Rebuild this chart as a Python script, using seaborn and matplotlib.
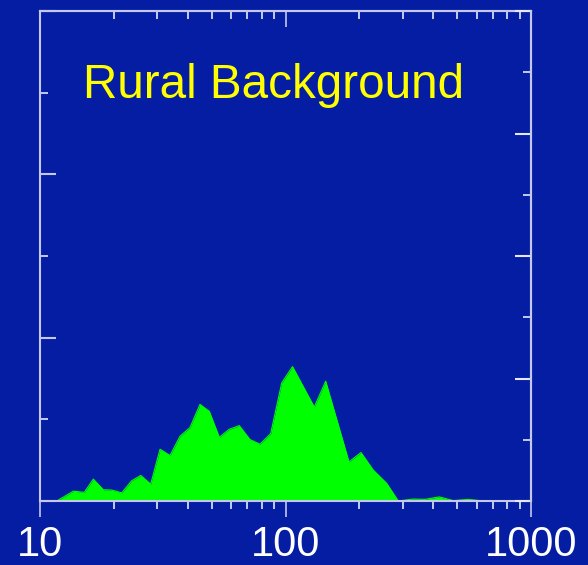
import numpy as np
import pandas as pd
import matplotlib
matplotlib.use("Agg")
import matplotlib.pyplot as plt
from matplotlib.ticker import MultipleLocator, LogLocator, NullFormatter, FixedLocator
import seaborn as sns

# Particle size distribution, rural background site
diameter_nm = [11.70, 13.67, 15.15, 16.49, 18.11, 19.60, 21.52, 23.63, 25.72, 28.24,
               30.83, 33.86, 37.18, 40.83, 44.84, 48.93, 53.75, 59.02, 64.82, 71.68,
               78.72, 87.04, 96.50, 106.8, 131.0, 145.8, 181.4, 203.0, 227.9, 258.4,
               288.0, 331.6, 370.0, 423.1, 482.5, 555.4, 619.8, 945.0]
concentration = [0.0, 0.12, 0.106, 0.268, 0.138, 0.134, 0.10, 0.248, 0.313, 0.207,
                 0.634, 0.557, 0.793, 0.899, 1.183, 1.098, 0.780, 0.878, 0.923, 0.752,
                 0.695, 0.826, 1.445, 1.646, 1.15, 1.467, 0.479, 0.594, 0.378, 0.216,
                 0.0, 0.024, 0.02, 0.05, 0.005, 0.02, 0.005, 0.0]
x_tick_labels = ["10", "100", "1000"]
title_text = "Rural Background"

BG = "#051DA2"
SPINE = "#c4c8ee"
TICK = "#e6e8f8"
GREEN = "#00FF00"

sns.set_theme(style="ticks")
plt.rcParams["font.family"] = ["Liberation Sans", "DejaVu Sans"]

df = pd.DataFrame({"d": diameter_nm, "c": concentration})

fig = plt.figure(figsize=(5.88, 5.65), dpi=100, facecolor=BG)
ax = fig.add_axes([40 / 588, 64 / 565, 491 / 588, 490 / 565])
ax.set_facecolor(BG)

ax.fill_between(df["d"], 0, df["c"], color=GREEN, linewidth=0, zorder=2)
sns.lineplot(data=df, x="d", y="c", color=GREEN, linewidth=0.8, ax=ax, zorder=3)

ax.set_xscale("log")
ax.set_xlim(10, 1000)
ax.set_ylim(0, 6)
ax.set_xlabel("")
ax.set_ylabel("")

for s in ax.spines.values():
    s.set_color(SPINE)
    s.set_linewidth(1.5)
    s.set_zorder(5)

# bottom: outward ticks with labels
ax.xaxis.set_major_locator(FixedLocator([10, 100, 1000]))
ax.set_xticklabels(x_tick_labels)
ax.xaxis.set_minor_locator(LogLocator(base=10, subs=np.arange(2, 10)))
ax.xaxis.set_minor_formatter(NullFormatter())
ax.tick_params(axis="x", which="major", direction="out", length=11.5, width=1.2,
               color=SPINE, labelcolor="white", labelsize=30, pad=6)
ax.tick_params(axis="x", which="minor", direction="out", length=6, width=1.2, color=TICK)

# left: inward ticks, no labels
ax.yaxis.set_major_locator(MultipleLocator(2))
ax.yaxis.set_minor_locator(MultipleLocator(1))
ax.tick_params(axis="y", which="major", direction="in", length=11.5, width=1.5,
               color=SPINE, labelleft=False)
ax.tick_params(axis="y", which="minor", direction="in", length=6, width=1.2, color=TICK)

# top: inward ticks
top = ax.secondary_xaxis("top")
top.xaxis.set_major_locator(FixedLocator([100]))
top.xaxis.set_minor_locator(LogLocator(base=10, subs=np.arange(2, 10)))
top.xaxis.set_minor_formatter(NullFormatter())
top.tick_params(axis="x", which="major", direction="in", length=11.5, width=1.2,
                color=SPINE, labeltop=False)
top.tick_params(axis="x", which="minor", direction="in", length=6, width=1.2, color=TICK)
top.spines["top"].set_color(SPINE)
top.spines["top"].set_linewidth(1.5)

# right: inward ticks on its own scale
right = ax.twinx()
right.set_ylim(0, 8)
right.yaxis.set_major_locator(MultipleLocator(2))
right.yaxis.set_minor_locator(MultipleLocator(1))
right.tick_params(axis="y", which="major", direction="in", length=11.5, width=1.5,
                  color=TICK, labelright=False)
right.tick_params(axis="y", which="minor", direction="in", length=6, width=1.2, color=TICK)
for s in right.spines.values():
    s.set_visible(False)
right.spines["right"].set_visible(True)
right.spines["right"].set_color(SPINE)
right.spines["right"].set_linewidth(1.5)

ax.text(0.088, 0.822, title_text, transform=ax.transAxes, color="#FFFF00",
        fontsize=34.3, ha="left", va="baseline")

fig.savefig("out.png", dpi=100, facecolor=BG)
